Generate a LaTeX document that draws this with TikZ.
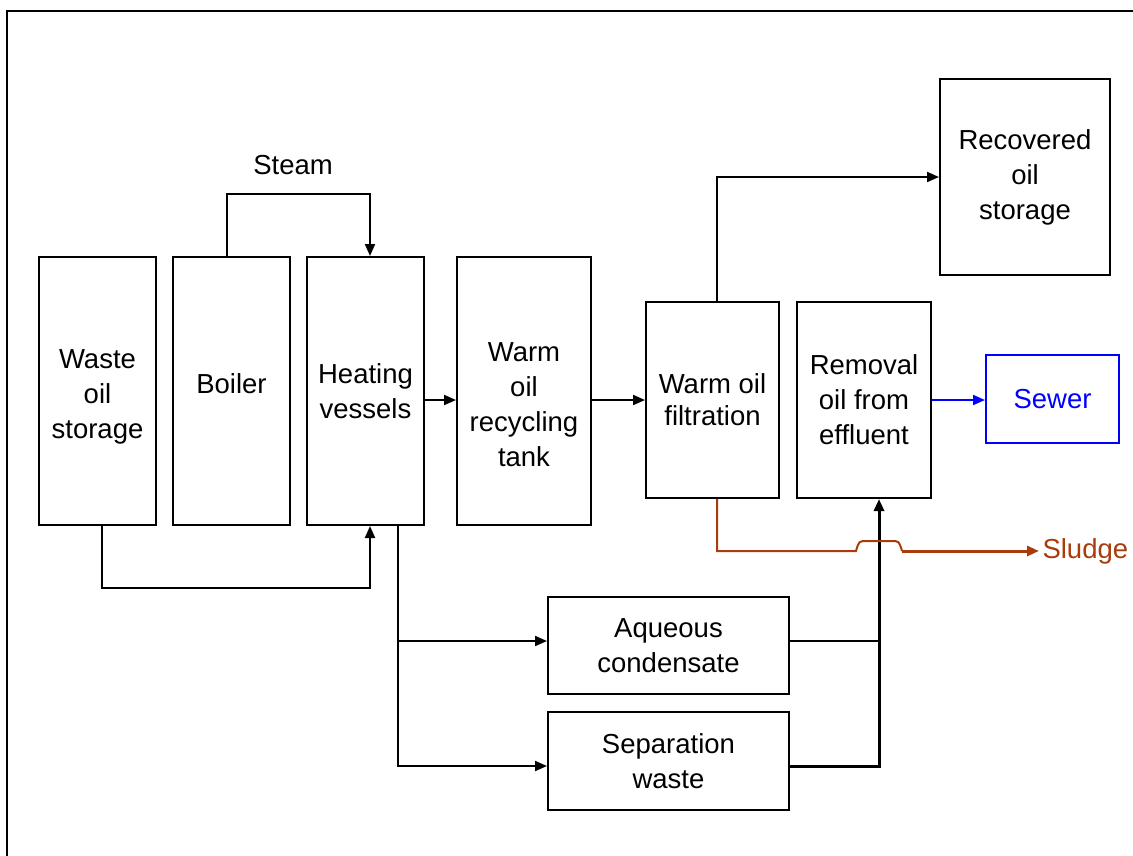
\documentclass[tikz,border=0pt]{standalone}
\usepackage{fontspec}
\setmainfont{Liberation Sans}
\definecolor{sludgec}{HTML}{A83C0A}
\usetikzlibrary{arrows.meta}

\begin{document}
\begin{tikzpicture}[x=1pt, y=-1pt,
  box/.style={draw, line width=2pt, align=center, inner sep=0pt,
              font=\fontsize{27.5}{35}\selectfont},
  tall/.style={box, minimum width=117pt, minimum height=268pt},
  arr/.style={line width=2pt, -{Triangle[length=12pt, width=10pt]}},
  lbl/.style={font=\fontsize{27.5}{35}\selectfont},
]
\useasboundingbox (0,0) rectangle (1133,855);
\draw[line width=2.5pt] (7,860) -- (7,11) -- (1140,11);

% left column
\node[tall] (storage) at (97.5,391) {\strut\\[-29pt]Waste\\oil\\storage};
\node[tall] (boiler) at (231.5,391) {\raisebox{15pt}{Boiler}};
\node[tall] (heating) at (365.5,391) {Heating\\vessels};
\node[tall, minimum width=134pt] (recycle) at (524,391) {\strut\\[-13pt]Warm\\oil\\recycling\\tank};

% right part
\node[box, minimum width=133pt, minimum height=196pt] (filtration) at (712.5,400) {Warm oil\\[-3pt]filtration};
\node[box, minimum width=134pt, minimum height=196pt] (removal) at (864,400) {Removal\\oil from\\effluent};
\node[box, minimum width=170pt, minimum height=196pt] (recovered) at (1025,177) {Recovered\\oil\\storage};
\node[box, draw=blue, text=blue, minimum width=133pt, minimum height=88pt] (sewer) at (1052.5,399) {Sewer};

% bottom boxes
\node[box, minimum width=241pt, minimum height=97pt] (aqueous) at (668.5,645.5) {Aqueous\\condensate};
\node[box, minimum width=241pt, minimum height=98pt] (separation) at (668.5,761) {Separation\\waste};

\node[lbl] (steam) at (293,165) {Steam};
\node[lbl, text=sludgec, anchor=west] (sludge) at (1039,551) {Sludge};

% connectors
\draw[arr] ([xshift=-4.5]boiler.north) -- ++(0,-62) -| ([xshift=4.5]heating.north);
\draw[arr] ([xshift=4.5]storage.south) -- ++(0,62) -| ([xshift=4.5]heating.south);
\draw[arr] ([yshift=-9]heating.east) -- ([yshift=-9]recycle.west);
\draw[arr] ([yshift=-9]recycle.east) -- (filtration.west);
\draw[arr] ([xshift=4.5]filtration.north) |- (recovered.west);
\draw[arr, blue] (removal.east) -- (removal.east -| sewer.west);

\draw[arr] ([xshift=32.5]heating.south) |- ([yshift=4.5]aqueous.west);
\draw[arr] ([xshift=32.5]heating.south) |- ([yshift=-5]separation.west);
\draw[line width=2pt] ([yshift=4.5]aqueous.east) -- ++(90,0);
\draw[arr, line width=3pt] ([yshift=-5]separation.east) -| ([xshift=15]removal.south);

% sludge line hopping over the upward flow
\draw[line width=2pt, sludgec] ([xshift=4.5]filtration.south) |- (856,551)
  .. controls (859,541) .. (867,541) -- (891,541) .. controls (899,541) .. (902,551);
\draw[arr, line width=3pt, sludgec] (902,551) -- (sludge.west);
\end{tikzpicture}
\end{document}
